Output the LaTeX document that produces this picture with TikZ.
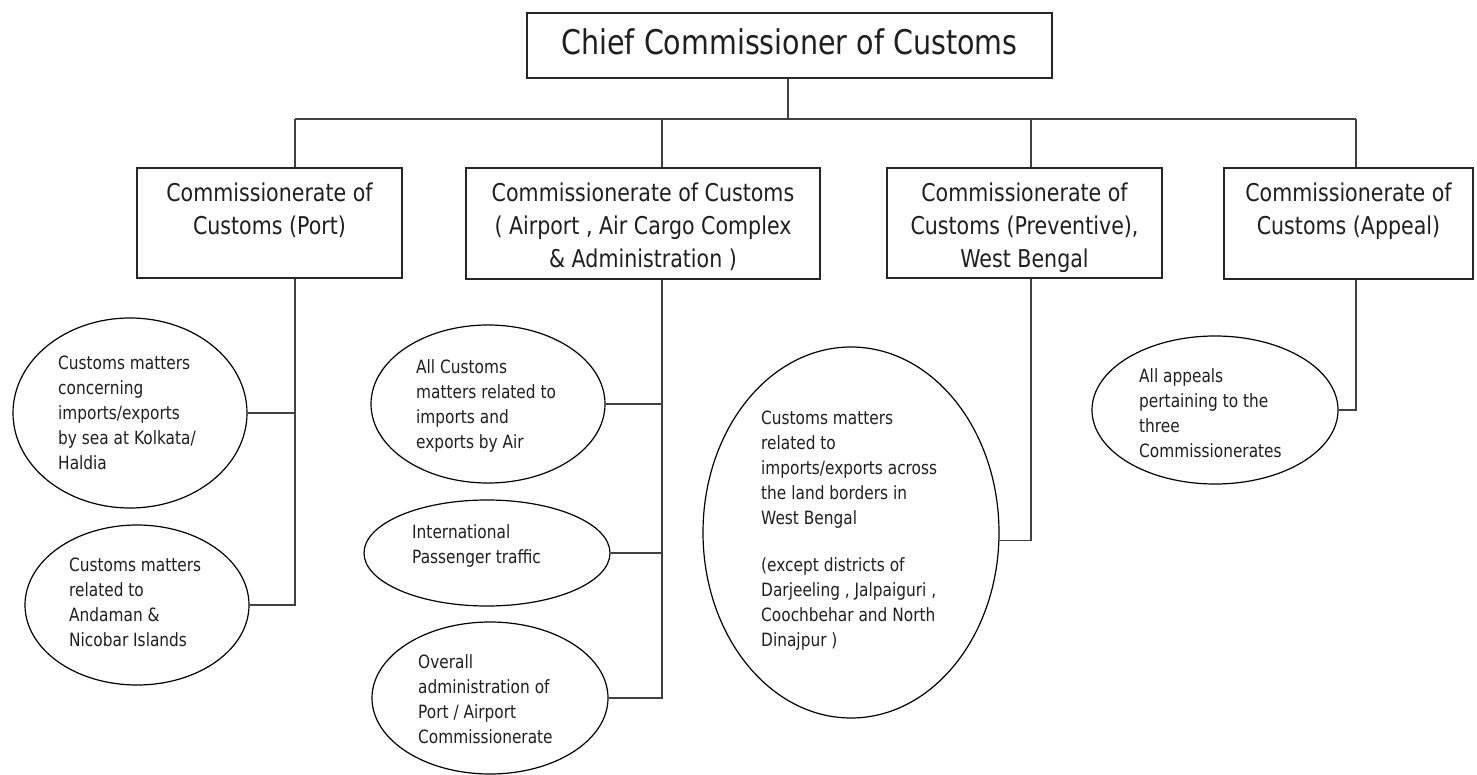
\documentclass[tikz,border=0pt]{standalone}
\usepackage{fontspec}
\setmainfont{DejaVu Sans}[FakeStretch=0.84]
\usetikzlibrary{shapes.geometric}
\begin{document}
\begin{tikzpicture}[x=1pt,y=-1pt,
  box/.style={draw=black!85, line width=1.4pt, rectangle, inner sep=0pt},
  bubble/.style={draw=black, line width=1.2pt, ellipse, inner sep=0pt},
  boxtext/.style={inner sep=0pt, align=center, anchor=north, text=black!88, font=\fontsize{24.5}{33}\selectfont},
  btext/.style={inner sep=0pt, align=left, anchor=north west, text=black!88, font=\fontsize{18.3}{25}\selectfont},
  link/.style={draw=black!75, line width=1.3pt}]
\useasboundingbox (0,0) rectangle (1477,775);
\fill[white] (0,0) rectangle (1477,775);

% top box
\node[box, minimum width=525pt, minimum height=65pt] (chief) at (789.5,45.5) {};
\node[inner sep=0pt, anchor=base, text=black!88, font=\fontsize{34}{40}\selectfont] (chieft) at (789.5,55) {Chief Commissioner of Customs};

% second-level boxes
\node[box, minimum width=265pt, minimum height=110pt] (port) at (269.5,223) {};
\node[box, minimum width=354pt, minimum height=111pt] (air) at (643,223.5) {};
\node[box, minimum width=275pt, minimum height=110pt] (prev) at (1024.5,223) {};
\node[box, minimum width=249pt, minimum height=111pt] (app) at (1348.5,223.5) {};

\node[boxtext] (portt) at (269.5,178) {\strut Commissionerate of\\Customs (Port)};
\node[boxtext] (airt) at (643,178) {\strut Commissionerate of Customs\\( Airport , Air Cargo Complex\\\& Administration )};
\node[boxtext] (prevt) at (1024.5,178) {\strut Commissionerate of\\Customs (Preventive),\\West Bengal};
\node[boxtext] (appt) at (1348.5,178) {\strut Commissionerate of\\Customs (Appeal)};

% ellipses
\node[bubble, minimum width=234pt, minimum height=190pt] (e1) at (130,413) {};
\node[bubble, minimum width=224pt, minimum height=160pt] (e2) at (137,605) {};
\node[bubble, minimum width=234pt, minimum height=158pt] (ea) at (488,404) {};
\node[bubble, minimum width=246pt, minimum height=106pt] (eb) at (487,553) {};
\node[bubble, minimum width=236pt, minimum height=152pt] (ec) at (490,698) {};
\node[bubble, minimum width=296pt, minimum height=371pt] (ep) at (851,532.5) {};
\node[bubble, minimum width=246pt, minimum height=148pt] (eq) at (1215,410) {};

\node[btext] (t1) at (58,351.5) {\strut Customs matters\\concerning\\imports/exports\\by sea at Kolkata/\\Haldia};
\node[btext] (t2) at (69,553.5) {\strut Customs matters\\related to\\Andaman \&\\Nicobar Islands};
\node[btext] (ta) at (416,355.5) {\strut All Customs\\matters related to\\imports and\\exports by Air};
\node[btext] (tb) at (412,520.5) {\strut International\\Passenger traffic};
\node[btext] (tc) at (418,650.5) {\strut Overall\\administration of\\Port / Airport\\Commissionerate};
\node[btext] (tp) at (761,406.5) {\strut Customs matters\\related to\\imports/exports across\\the land borders in\\West Bengal\\[22pt](except districts of\\Darjeeling , Jalpaiguri ,\\Coochbehar and North\\Dinajpur )};
\node[btext] (tq) at (1139,364.5) {\strut All appeals\\pertaining to the\\three\\Commissionerates};

% bus coordinates
\coordinate (b1) at (295,119);
\coordinate (b2) at (662,119);
\coordinate (b3) at (1031,119);
\coordinate (b4) at (1356,119);

\draw[link] (chief.south -| 788,0) -- (b1 -| 788,0);
\draw[link] (b1) -- (b4);
\draw[link] (b1) -- (b1 |- port.north);
\draw[link] (b2) -- (b2 |- air.north);
\draw[link] (b3) -- (b3 |- prev.north);
\draw[link] (b4) -- (b4 |- app.north);

% port branches
\draw[link] (e1.east) -- (e1.east -| b1);
\draw[link] (e2.east) -| (b1 |- port.south);
% airport branches
\draw[link] (ea.east) -- (ea.east -| b2);
\draw[link] (eb.east) -- (eb.east -| b2);
\draw[link] (ec.east) -| (b2 |- air.south);
% preventive branch
\draw[link] (ep.-3) -| (b3 |- prev.south);
% appeal branch
\draw[link] (eq.east) -| (b4 |- app.south);
\end{tikzpicture}
\end{document}
